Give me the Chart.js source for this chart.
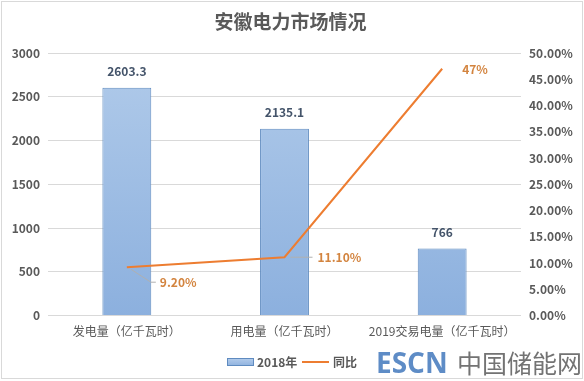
<!DOCTYPE html>
<html>
<head>
<meta charset="utf-8">
<script src="https://cdn.jsdelivr.net/npm/chart.js@4/dist/chart.umd.min.js"></script>
<style>
html,body{margin:0;padding:0;background:#fff;}
#wrap{position:relative;width:584px;height:381px;}
</style>
</head>
<body>
<div id="wrap"><canvas id="c" width="584" height="381"></canvas></div>
<script>
const chartTitle = '安徽电力市场情况';
const categories = ['发电量（亿千瓦时）', '用电量（亿千瓦时）', '2019交易电量（亿千瓦时）'];
const barName = '2018年';
const barValues = [2603.3, 2135.1, 766];
const barLabels = ['2603.3', '2135.1', '766'];
const lineName = '同比';
const lineValues = [9.2, 11.1, 47];
const lineLabels = ['9.20%', '11.10%', '47%'];
const watermarkA = 'ESCN';
const watermarkB = '中国储能网';

const FONT = '"Noto Sans CJK SC", "Open Sans", sans-serif';
const GREY = '#595959';
const ORANGE = '#ED7D31';

const decor = {
  id: 'decor',
  afterDatasetsDraw(chart) {
    const ctx = chart.ctx;
    const ca = chart.chartArea;
    const barMeta = chart.getDatasetMeta(0);
    const lineMeta = chart.getDatasetMeta(1);
    ctx.save();
    // bar value labels
    ctx.font = 'bold 12px ' + FONT;
    ctx.fillStyle = '#44546A';
    ctx.textAlign = 'center';
    ctx.textBaseline = 'middle';
    barMeta.data.forEach((el, i) => {
      ctx.fillText(barLabels[i], el.x, el.y - 16);
    });
    // line labels
    ctx.font = 'bold 12px ' + FONT;
    ctx.fillStyle = '#D3843F';
    ctx.textAlign = 'left';
    const p = lineMeta.data;
    ctx.strokeStyle = '#B0B0B0';
    ctx.lineWidth = 1;
    ctx.beginPath();
    ctx.moveTo(p[0].x + 4, p[0].y + 2);
    ctx.lineTo(p[0].x + 24, p[0].y + 15);
    ctx.lineTo(p[0].x + 29, p[0].y + 15);
    ctx.stroke();
    ctx.fillText(lineLabels[0], p[0].x + 33, p[0].y + 15);
    ctx.beginPath();
    ctx.moveTo(p[1].x + 6, p[1].y);
    ctx.lineTo(p[1].x + 28, p[1].y);
    ctx.stroke();
    ctx.fillText(lineLabels[1], p[1].x + 33, p[1].y);
    ctx.fillText(lineLabels[2], p[2].x + 20, p[2].y + 1);

    // title
    ctx.font = 'bold 19px ' + FONT;
    ctx.fillStyle = GREY;
    ctx.textAlign = 'center';
    ctx.fillText(chartTitle, (ca.left + ca.right) / 2 + 6, 22);

    // legend
    const ly = 362;
    const grd = ctx.createLinearGradient(0, ly - 4, 0, ly + 4);
    grd.addColorStop(0, '#B4CDEB');
    grd.addColorStop(1, '#8FB2DF');
    ctx.fillStyle = grd;
    ctx.fillRect(227.5, ly - 3.5, 26, 7);
    ctx.strokeStyle = '#5F8BC0';
    ctx.strokeRect(227.5, ly - 3.5, 26, 7);
    ctx.font = 'bold 12px ' + FONT;
    ctx.fillStyle = GREY;
    ctx.textAlign = 'left';
    ctx.fillText(barName, 257, ly);
    ctx.strokeStyle = ORANGE;
    ctx.lineWidth = 2;
    ctx.beginPath();
    ctx.moveTo(302, ly);
    ctx.lineTo(329, ly);
    ctx.stroke();
    ctx.fillText(lineName, 333, ly);

    // watermark
    ctx.font = 'bold 28px "Open Sans", sans-serif';
    ctx.fillStyle = '#5E8CC6';
    ctx.textBaseline = 'alphabetic';
    ctx.fillText(watermarkA, 376, 373);
    ctx.font = '25px "Noto Sans CJK SC", sans-serif';
    ctx.fillStyle = '#737373';
    ctx.fillText(watermarkB, 457, 373);

    // frame
    ctx.strokeStyle = '#D9D9D9';
    ctx.lineWidth = 1;
    ctx.strokeRect(1.5, 1.5, 581, 377);
    ctx.restore();
  }
};

const ctx = document.getElementById('c').getContext('2d');
new Chart(ctx, {
  data: {
    labels: categories,
    datasets: [
      {
        type: 'bar',
        label: barName,
        data: barValues,
        yAxisID: 'y',
        order: 2,
        backgroundColor: (c) => {
          const a = c.chart.chartArea;
          if (!a) return '#A3C1E6';
          const g = c.chart.ctx.createLinearGradient(0, a.top, 0, a.bottom);
          g.addColorStop(0, '#B1CBEA');
          g.addColorStop(1, '#8CB0DE');
          return g;
        },
        borderColor: '#5F8BC0',
        borderWidth: 1,
        borderSkipped: 'bottom',
        barPercentage: 0.31,
        categoryPercentage: 1
      },
      {
        type: 'line',
        label: lineName,
        data: lineValues,
        yAxisID: 'y1',
        order: 1,
        borderColor: ORANGE,
        borderWidth: 2,
        pointRadius: 0,
        tension: 0,
        fill: false
      }
    ]
  },
  options: {
    responsive: false,
    animation: false,
    layout: { padding: { top: 53, left: 0, right: 0, bottom: 0 } },
    plugins: { legend: { display: false }, title: { display: false }, tooltip: { enabled: false } },
    scales: {
      x: {
        grid: { display: false, drawTicks: false },
        border: { display: false },
        ticks: { color: GREY, font: { size: 12, family: FONT }, padding: 9, maxRotation: 0, autoSkip: false },
        afterFit: (s) => { s.height = 381 - 315.5; }
      },
      y: {
        position: 'left',
        min: 0, max: 3000,
        ticks: { stepSize: 500, color: GREY, font: { size: 12, weight: 'bold', family: FONT }, padding: 8,
          callback: (v) => String(v) },
        grid: { color: '#D9D9D9', drawTicks: false, lineWidth: 1 },
        border: { display: false },
        afterFit: (s) => { s.width = 48; }
      },
      y1: {
        position: 'right',
        min: 0, max: 50,
        ticks: { stepSize: 5, color: GREY, font: { size: 12, weight: 'bold', family: FONT }, padding: 8,
          callback: (v) => v.toFixed(2) + '%' },
        grid: { display: false, drawTicks: false },
        border: { display: false },
        afterFit: (s) => { s.width = 584 - 521; }
      }
    }
  },
  plugins: [decor]
});
</script>
</body>
</html>
